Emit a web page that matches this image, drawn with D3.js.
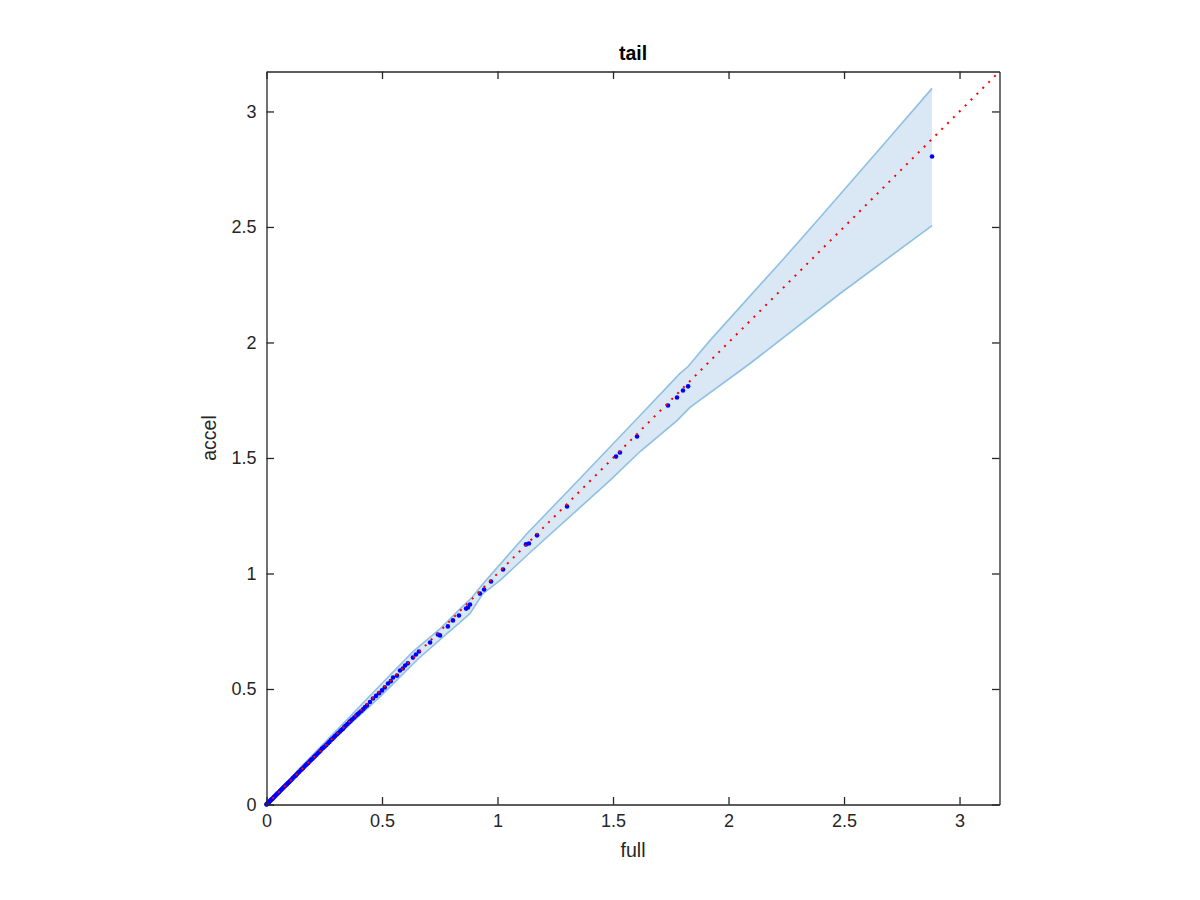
<!DOCTYPE html>
<html>
<head>
<meta charset="utf-8">
<script src="https://cdn.jsdelivr.net/npm/d3@7"></script>
<style>
  html, body { margin: 0; padding: 0; background: #ffffff; }
  svg { display: block; font-family: "Liberation Sans", Arial, Helvetica, sans-serif; }
</style>
</head>
<body>
<svg id="chart" width="1200" height="900"></svg>
<script>
// ---- data ----
const title = "tail";
const xLabel = "full";
const yLabel = "accel";
const xTicks = [0, 0.5, 1, 1.5, 2, 2.5, 3];
const yTicks = [0, 0.5, 1, 1.5, 2, 2.5, 3];
const axisMax = 3.173;

// sample points (full, accel)
const fullValues = [
  2.881, 1.825, 1.803, 1.777, 1.738, 1.604, 1.530, 1.513, 1.301, 1.171,
  1.136, 1.123, 1.024, 0.972, 0.942, 0.924, 0.881, 0.872, 0.864, 0.833,
  0.807, 0.785, 0.751, 0.742, 0.708, 0.660, 0.647, 0.634, 0.600, 0.578,
  0.565, 0.548, 0.526, 0.500, 0.461, 0.435, 0.418, 0.402, 0.389, 0.371,
  0.358, 0.342, 0.330, 0.318, 0.304, 0.291, 0.279, 0.266, 0.252, 0.240,
  0.229, 0.216, 0.205, 0.193, 0.181, 0.170, 0.159, 0.148, 0.137, 0.127,
  0.117, 0.107, 0.098, 0.089, 0.080, 0.071, 0.063, 0.055, 0.047, 0.040,
  0.033, 0.027, 0.021, 0.015, 0.010, 0.006, 0.003, 0.001, 0.000,
  0.612, 0.590, 0.538, 0.512, 0.487, 0.474, 0.448, 0.426, 0.410, 0.395,
  0.380, 0.364, 0.350, 0.336, 0.324, 0.311, 0.297, 0.285, 0.272, 0.259,
  0.246, 0.234, 0.222, 0.210, 0.199, 0.187, 0.175, 0.164, 0.153, 0.142,
  0.132, 0.122, 0.112, 0.102, 0.093, 0.084, 0.075, 0.067, 0.059, 0.051,
  0.043, 0.036, 0.030, 0.024, 0.018, 0.012, 0.008, 0.004, 0.002
];
const accelValues = [
  2.805, 1.810, 1.792, 1.762, 1.727, 1.593, 1.524, 1.506, 1.290, 1.165,
  1.130, 1.126, 1.017, 0.965, 0.931, 0.913, 0.866, 0.853, 0.848, 0.818,
  0.797, 0.771, 0.732, 0.736, 0.701, 0.662, 0.649, 0.636, 0.602, 0.580,
  0.558, 0.550, 0.524, 0.494, 0.459, 0.429, 0.412, 0.398, 0.386, 0.369,
  0.356, 0.341, 0.327, 0.316, 0.303, 0.290, 0.279, 0.265, 0.251, 0.241,
  0.228, 0.215, 0.204, 0.193, 0.180, 0.170, 0.158, 0.148, 0.137, 0.126,
  0.117, 0.106, 0.097, 0.088, 0.080, 0.071, 0.063, 0.054, 0.047, 0.040,
  0.033, 0.026, 0.021, 0.015, 0.010, 0.006, 0.003, 0.001, 0.000,
  0.611, 0.589, 0.534, 0.507, 0.482, 0.470, 0.444, 0.421, 0.405, 0.391,
  0.377, 0.362, 0.348, 0.334, 0.322, 0.309, 0.296, 0.284, 0.271, 0.258,
  0.246, 0.234, 0.222, 0.210, 0.198, 0.187, 0.175, 0.164, 0.153, 0.142,
  0.132, 0.122, 0.112, 0.102, 0.093, 0.084, 0.075, 0.067, 0.059, 0.051,
  0.043, 0.036, 0.030, 0.024, 0.018, 0.012, 0.008, 0.004, 0.002
];

// confidence band edges
const upperX = [0, 0.145, 0.318, 0.491, 0.634, 0.751, 0.837, 0.889, 0.937, 1.128, 1.357, 1.617, 1.790, 1.825, 1.920, 2.232, 2.396, 2.686, 2.881];
const upperY = [0, 0.158, 0.336, 0.515, 0.662, 0.760, 0.846, 0.896, 0.955, 1.173, 1.411, 1.684, 1.866, 1.896, 2.009, 2.355, 2.541, 2.874, 3.100];
const lowerX = [0, 0.145, 0.318, 0.491, 0.656, 0.781, 0.838, 0.881, 0.937, 1.011, 1.141, 1.487, 1.617, 1.777, 1.833, 2.093, 2.483, 2.881];
const lowerY = [0, 0.140, 0.308, 0.466, 0.630, 0.740, 0.788, 0.827, 0.913, 0.970, 1.091, 1.403, 1.528, 1.662, 1.719, 1.909, 2.212, 2.506];

// reference line y = x
const refLine = [0, axisMax];

// ---- layout ----
const svg = d3.select("#chart");
const mLeft = 266.5, mTop = 71.5, plotSize = 733;
const x = d3.scaleLinear().domain([0, axisMax]).range([mLeft, mLeft + plotSize]);
const y = d3.scaleLinear().domain([0, axisMax]).range([mTop + plotSize, mTop]);

const textColor = "#262626";

const upper = upperX.map((v, i) => [v, upperY[i]]);
const lower = lowerX.map((v, i) => [v, lowerY[i]]);

// band fill
const bandPoly = upper.concat(lower.slice().reverse());
svg.append("path")
  .attr("d", d3.line().x(d => x(d[0])).y(d => y(d[1]))(bandPoly) + "Z")
  .attr("fill", "#d9e8f4")
  .attr("stroke", "none");

const edgeLine = d3.line().x(d => x(d[0])).y(d => y(d[1]));
[upper, lower].forEach(edge => {
  svg.append("path")
    .attr("d", edgeLine(edge))
    .attr("fill", "none")
    .attr("stroke", "#8fc0e2")
    .attr("stroke-width", 1.6);
});

// sample points
svg.append("g").selectAll("circle")
  .data(fullValues.map((v, i) => [v, accelValues[i]]))
  .join("circle")
  .attr("cx", d => x(d[0]))
  .attr("cy", d => y(d[1]))
  .attr("r", 2.3)
  .attr("fill", "#0000ff");

// dotted reference line
svg.append("line")
  .attr("x1", x(refLine[0])).attr("y1", y(refLine[0]))
  .attr("x2", x(refLine[1])).attr("y2", y(refLine[1]))
  .attr("stroke", "#ff0000")
  .attr("stroke-width", 2)
  .attr("stroke-dasharray", "2,6.3");

// axes (ticks inside, box)
const tickLen = 7.5;
const fmt = d => String(d);
const axB = svg.append("g").attr("transform", `translate(0,${mTop + plotSize})`)
  .call(d3.axisBottom(x).tickValues(xTicks).tickFormat(fmt).tickSizeInner(-tickLen).tickSizeOuter(0).tickPadding(10));
const axT = svg.append("g").attr("transform", `translate(0,${mTop})`)
  .call(d3.axisTop(x).tickValues(xTicks).tickFormat("").tickSizeInner(-tickLen).tickSizeOuter(0));
const axL = svg.append("g").attr("transform", `translate(${mLeft},0)`)
  .call(d3.axisLeft(y).tickValues(yTicks).tickFormat(fmt).tickSizeInner(-tickLen).tickSizeOuter(0).tickPadding(10));
const axR = svg.append("g").attr("transform", `translate(${mLeft + plotSize},0)`)
  .call(d3.axisRight(y).tickValues(yTicks).tickFormat("").tickSizeInner(-tickLen).tickSizeOuter(0));

[axB, axT, axL, axR].forEach(g => {
  g.select(".domain").attr("stroke", textColor).attr("stroke-width", 1.3);
  g.selectAll(".tick line").attr("stroke", textColor).attr("stroke-width", 1.3);
  g.selectAll(".tick text").attr("fill", textColor).attr("font-size", 18)
    .attr("font-family", "'Liberation Sans', Arial, sans-serif");
});

// title & labels
svg.append("text")
  .attr("x", mLeft + plotSize / 2).attr("y", 60)
  .attr("text-anchor", "middle")
  .attr("font-size", 19.5).attr("font-weight", "bold")
  .attr("fill", "#000000")
  .text(title);

svg.append("text")
  .attr("x", mLeft + plotSize / 2).attr("y", 857)
  .attr("text-anchor", "middle")
  .attr("font-size", 19.5)
  .attr("fill", textColor)
  .text(xLabel);

svg.append("text")
  .attr("transform", `translate(216,${mTop + plotSize / 2}) rotate(-90)`)
  .attr("text-anchor", "middle")
  .attr("font-size", 19.5)
  .attr("fill", textColor)
  .text(yLabel);
</script>
</body>
</html>
